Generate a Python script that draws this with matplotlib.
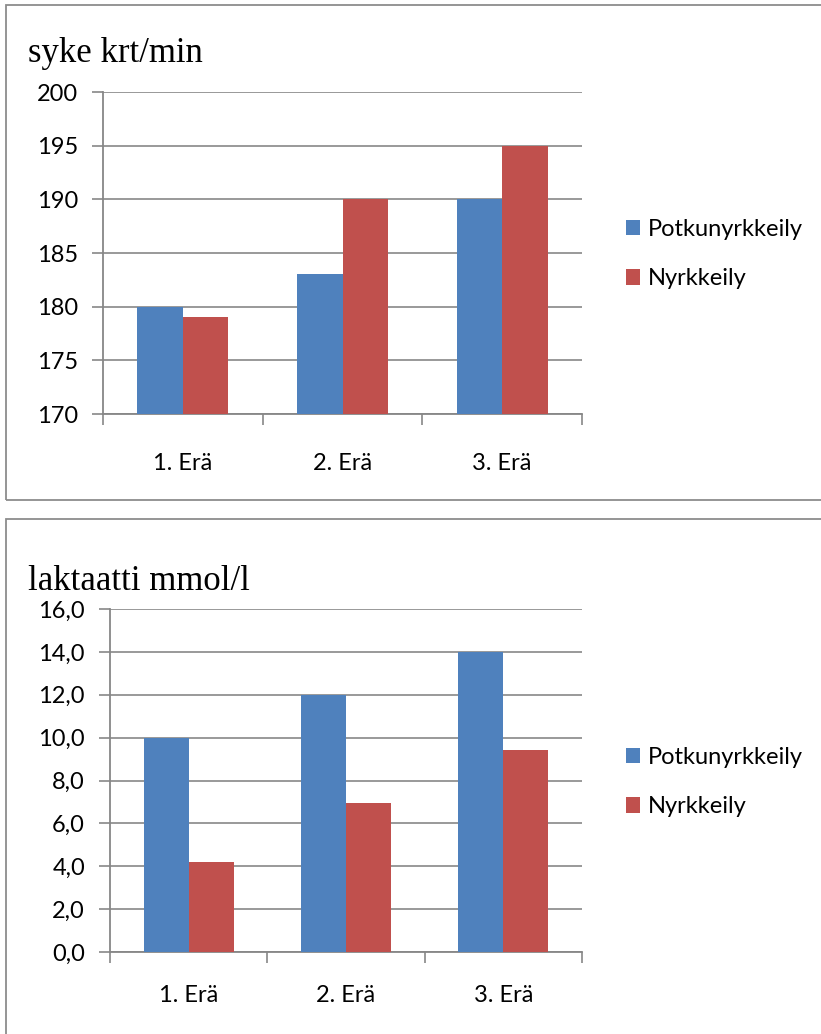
import matplotlib
matplotlib.use("Agg")
import matplotlib.pyplot as plt
from matplotlib.patches import Rectangle
import numpy as np

categories = ["1. Erä", "2. Erä", "3. Erä"]
series_names = ["Potkunyrkkeily", "Nyrkkeily"]
hr_potku = [180, 183, 190]
hr_nyrkki = [179, 190, 195]
lac_potku = [10.0, 12.0, 14.0]
lac_nyrkki = [4.2, 6.95, 9.4]
hr_ticks = [170, 175, 180, 185, 190, 195, 200]
lac_ticks = [0, 2, 4, 6, 8, 10, 12, 14, 16]

BLUE = "#4F81BD"
RED = "#C0504D"
GRID = "#878787"
FONT = "Lato"
FS = 17

W, H = 821, 1034
fig = plt.figure(figsize=(W / 100, H / 100), dpi=100)


def px_rect(l, t, r, b):
    return [l / W, 1 - b / H, (r - l) / W, (b - t) / H]


def panel(box, axrect, title, title_y, s1, s2, ticks, fmt, legend_y, xpad):
    l, t, r, b = box
    fig.patches.append(Rectangle((l / W, 1 - b / H), (r - l) / W, (b - t) / H,
                                 transform=fig.transFigure, fill=False,
                                 edgecolor="#8c8c8c", linewidth=1.3))
    fig.text(28 / W, 1 - title_y / H, title, family="Liberation Serif",
             fontsize=25, va="center", ha="left")
    ax = fig.add_axes(px_rect(*axrect))
    x = np.arange(len(categories))
    w = 1 / 3.5
    b1 = ax.bar(x - w / 2, s1, w, color=BLUE, zorder=3, label=series_names[0])
    b2 = ax.bar(x + w / 2, s2, w, color=RED, zorder=3, label=series_names[1])
    ax.set_xlim(-0.5, len(categories) - 0.5)
    ax.set_ylim(ticks[0], ticks[-1])
    ax.set_yticks(ticks)
    ax.set_yticklabels([fmt(v) for v in ticks], family=FONT, fontsize=FS)
    ax.set_xticks(x)
    ax.set_xticklabels(categories, family=FONT, fontsize=FS)
    ax.set_xticks(np.arange(len(categories) + 1) - 0.5, minor=True)
    ax.tick_params(axis="x", which="major", length=0, pad=xpad)
    ax.tick_params(axis="x", which="minor", length=8, width=1.2, color=GRID, direction="out")
    ax.tick_params(axis="y", length=8, width=1.2, color=GRID, direction="out", pad=10)
    for s in ["top", "right"]:
        ax.spines[s].set_visible(False)
    for s in ["left", "bottom"]:
        ax.spines[s].set_color(GRID)
        ax.spines[s].set_linewidth(1.3)
    ax.grid(axis="y", color=GRID, linewidth=1.2, zorder=1)
    ax.set_axisbelow(True)
    fig.legend(handles=[b1, b2], loc="center left",
               bbox_to_anchor=(614 / W, 1 - legend_y / H),
               frameon=False, prop={"family": FONT, "size": FS},
               handlelength=0.62, handleheight=0.62,
               handletextpad=0.33, labelspacing=1.2, borderpad=0)
    return ax


panel((6, 5, 830, 500), (103, 92, 582, 414), "syke krt/min", 54,
      hr_potku, hr_nyrkki, hr_ticks, lambda v: f"{v:d}", 254, 28)
panel((6, 519, 830, 1045), (110, 609, 582, 952), "laktaatti mmol/l", 582,
      lac_potku, lac_nyrkki, lac_ticks, lambda v: f"{v:.1f}".replace(".", ","), 782, 24)

fig.savefig("out.png", dpi=100)
